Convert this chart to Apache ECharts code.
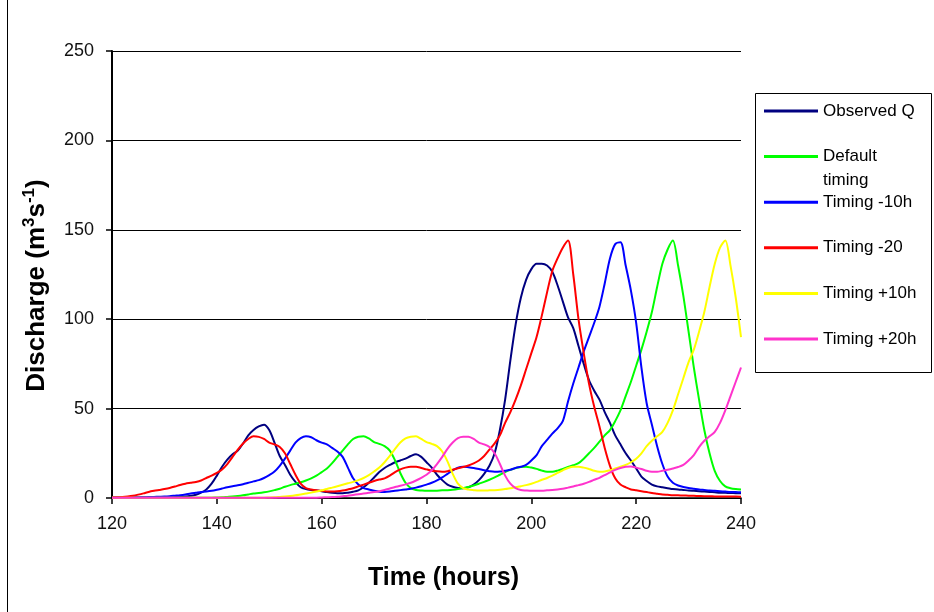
<!DOCTYPE html>
<html><head><meta charset="utf-8">
<script src="https://cdn.jsdelivr.net/npm/echarts@6/dist/echarts.min.js"></script>
<style>html,body{margin:0;padding:0;background:#fff}#c{width:934px;height:612px}</style>
</head><body><div id="c"></div><script>
// time axis: hourly from 120 to 240
const hours = [];
for (let h = 120; h <= 240; h++) hours.push(h);

const seriesNames = ['Observed Q', 'Default timing', 'Timing -10h', 'Timing -20', 'Timing +10h', 'Timing +20h'];
const seriesColors = ['#000080', '#00FF00', '#0000FF', '#FF0000', '#FFFF00', '#FF33CC'];
const xTicks = [120, 140, 160, 180, 200, 220, 240];
const yTicks = [0, 50, 100, 150, 200, 250];

const observedQ = [
  0.3,0.3,0.3,0.3,0.3,0.3,0.3,0.3,0.3,0.3,
  0.4,0.4,0.5,0.6,0.8,1.2,1.8,3,4.8,8,
  12.5,17.5,21.5,24.5,26.5,30.5,35,38,40,41,
  38,31,23.5,18.5,13,9,6,5,4.5,4.2,
  3.8,3.3,2.9,2.7,2.7,3,3.5,4.3,6,8.5,
  11.5,14.5,16.8,18.5,20,21,22,23.5,24.5,23,
  20,17,13,10,7.5,6.3,5.6,5.4,6,7.5,
  10,13.5,18,25,38,55,77,97,112,122,
  128,131,131,130,126.5,119,110,101,95,85,
  75,66,60,55,48,42,35,30,25,21,
  16.5,12,9.5,7.5,6.5,6,5.5,5,4.8,4.5,
  4.2,4,3.8,3.6,3.4,3.2,3,2.9,2.8,2.7,
  2.6];

const defaultTiming = [
  0.2,0.2,0.2,0.2,0.2,0.2,0.2,0.2,0.2,0.2,
  0.2,0.2,0.2,0.2,0.2,0.2,0.2,0.2,0.2,0.2,
  0.3,0.4,0.6,0.8,1.1,1.5,2,2.5,2.8,3.2,
  3.7,4.4,5.2,6.3,7.2,8,8.8,9.8,11,12.5,
  14.5,16.5,19.5,23,26.5,30,33,34.3,34.5,33.3,
  31.3,30.3,29,26.5,21,14,8.5,5.5,4.5,4.2,
  4,4,4.1,4.3,4.4,4.6,5,5.6,6.2,7,
  8,9,10.2,11.5,13,14.5,15.7,16.7,17.3,17.5,
  17,16.3,15.3,14.7,14.7,15.3,16.3,17.3,18.3,19.5,
  22,25,28,31.5,35,38,43,49,57,65,
  74,83,93,104,118,131,139,144,130,113,
  93,73,55,38,25,15,9.5,6.5,5.5,5,
  4.7];

const timingMinus10 = [
  0.2,0.2,0.2,0.3,0.3,0.3,0.4,0.5,0.6,0.7,
  0.8,1,1.3,1.6,2,2.5,2.9,3.3,3.6,4,
  4.6,5.3,6,6.6,7.1,7.7,8.5,9.3,10,11.2,
  12.8,14.8,18,22,26.5,31,33.5,34.5,34,32.3,
  31,30,28,26,23,17,11,7.5,5.5,4.8,
  4,3.5,3.4,3.6,4,4.4,4.8,5.2,5.8,6.6,
  7.5,8.5,9.8,11.5,13.5,15.5,17,17.5,17.2,16.8,
  16.2,15.5,15,14.7,14.8,15.3,15.8,16.8,17.5,18.5,
  21,24,29,32.5,36,39,43,54,64,73,
  82,90,98,107,120,134,142,143,130,116,
  98,73,53,41,29,19,12,8.5,7,6.2,
  5.6,5.2,4.8,4.5,4.2,4,3.8,3.6,3.4,3.3,
  3.2];

const timingMinus20 = [
  0.3,0.4,0.6,0.9,1.3,1.9,2.6,3.4,4,4.5,
  5,5.6,6.4,7.3,8,8.5,9,9.8,11.2,12.5,
  14,16,19,23,27,30.5,33,34.5,34.2,33,
  31,30,28.5,25,19,13,8,5.5,4.8,4.3,
  4,3.7,3.6,3.8,4.2,4.8,5.5,6.5,7.5,8.5,
  9.5,10.3,11,12.5,14.5,16,17,17.5,17.5,16.8,
  16,15.3,14.9,14.7,15,15.8,16.6,17.3,18.2,19.4,
  21,23.5,27,30.5,35,42,48,55,63,72,
  81,90,102,115,127,134,140,144,125,100,
  81,64,51,40,28,18,11,7.5,6,4.8,
  4.3,3.8,3.3,2.8,2.4,2,1.8,1.6,1.5,1.4,
  1.3,1.2,1.1,1,1,0.9,0.9,0.8,0.8,0.8,
  0.7];

const timingPlus10 = [
  0.2,0.2,0.2,0.2,0.2,0.2,0.2,0.2,0.2,0.2,
  0.2,0.2,0.2,0.2,0.2,0.2,0.2,0.2,0.2,0.2,
  0.2,0.2,0.2,0.2,0.2,0.2,0.2,0.2,0.2,0.2,
  0.3,0.4,0.6,0.8,1.1,1.5,2,2.5,3,3.6,
  4.3,5,5.8,6.6,7.4,8.2,9,10,11.2,12.8,
  14.8,17,20,23.5,27.5,31,33.3,34.3,34.5,33,
  31.3,30.3,29,26,20.5,13.5,8,5.5,4.7,4.4,
  4.2,4.2,4.3,4.4,4.6,5,5.5,6,6.6,7.2,
  8,9,10.2,11.2,12.5,14,15.5,16.8,17.5,17.5,
  17,16.2,15.2,14.7,14.8,15.5,16.5,17.5,18.5,20,
  22,25,29,32,34.5,37,42,49,58,67,
  76,83,93,104,118,131,140,144,130,112,
  90];

const timingPlus20 = [
  0.2,0.2,0.2,0.2,0.2,0.2,0.2,0.2,0.2,0.2,
  0.2,0.2,0.2,0.2,0.2,0.2,0.2,0.2,0.2,0.2,
  0.2,0.2,0.2,0.2,0.2,0.2,0.2,0.2,0.2,0.2,
  0.2,0.2,0.2,0.2,0.2,0.2,0.2,0.2,0.2,0.2,
  0.3,0.4,0.5,0.7,1,1.3,1.7,2.1,2.5,2.9,
  3.3,3.8,4.5,5.3,6.1,6.8,7.6,8.5,9.8,11.3,
  13,15.5,19,23,27.5,31,33.5,34.3,34.2,33,
  31,30,28.5,25,19,12.5,8,5.5,4.5,4.2,
  4,4,4.1,4.3,4.5,4.8,5.2,5.8,6.4,7.2,
  8,9,10.2,11.3,12.8,14.3,15.7,16.8,17.5,17.6,
  17,16.2,15.2,14.7,14.7,15.2,15.8,16.5,17.3,18.5,
  21,24,28.5,32,34.5,37,42,49,57,65,
  73];

const allValues = [observedQ, defaultTiming, timingMinus10, timingMinus20, timingPlus10, timingPlus20];

const FONT = 'Liberation Sans';
const chart = echarts.init(document.getElementById('c'), null, { renderer: 'canvas' });

const series = seriesNames.map((name, k) => ({
  name: name,
  type: 'line',
  data: hours.map((h, i) => [h, allValues[k][i]]),
  smooth: 0.3,
  symbol: 'none',
  showSymbol: false,
  lineStyle: { width: 2, color: seriesColors[k] },
  itemStyle: { color: seriesColors[k] },
  emphasis: { disabled: true },
  z: 2 + k
}));

chart.setOption({
  animation: false,
  backgroundColor: '#fff',
  grid: { left: 112, right: 193, top: 51, bottom: 114, containLabel: false },
  xAxis: {
    type: 'value', min: xTicks[0], max: xTicks[xTicks.length - 1], interval: 20,
    name: 'Time (hours)', nameLocation: 'middle', nameGap: 68,
    nameTextStyle: { fontFamily: FONT, fontWeight: 'bold', fontSize: 25, color: '#000', padding: [0, 0, 0, 34] },
    axisLine: { lineStyle: { color: '#000', width: 1.5 } },
    axisTick: { show: true, length: 6, inside: false, lineStyle: { color: '#000', width: 1.5 } },
    axisLabel: { fontFamily: FONT, fontSize: 18, color: '#111', margin: 17 },
    splitLine: { show: false }
  },
  yAxis: {
    type: 'value', min: yTicks[0], max: yTicks[yTicks.length - 1], interval: 50,
    name: 'Discharge (m{sup|3}s{sup|-1})', nameLocation: 'middle', nameGap: 51, nameRotate: 90,
    nameTextStyle: {
      fontFamily: FONT, fontWeight: 'bold', fontSize: 26, color: '#000', lineHeight: 32,
      padding: [0, 22, 0, 0],
      rich: { sup: { fontFamily: FONT, fontWeight: 'bold', fontSize: 17, lineHeight: 17, verticalAlign: 'top', color: '#000' } }
    },
    axisLine: { show: true, lineStyle: { color: '#000', width: 2 } },
    axisTick: { show: true, length: 6, inside: false, lineStyle: { color: '#000', width: 1.5 } },
    axisLabel: { fontFamily: FONT, fontSize: 18, color: '#111', margin: 18 },
    splitLine: { show: true, lineStyle: { color: '#000', width: 1 } }
  },
  legend: {
    orient: 'vertical', left: 764, top: 75, padding: 0,
    icon: 'rect', itemWidth: 54, itemHeight: 3, itemGap: -26.4,
    selectedMode: false,
    data: seriesNames,
    formatter: function (name) {
      if (name === 'Default timing') return ' \nDefault\ntiming';
      return ' \n' + name + '\n ';
    },
    textStyle: { fontFamily: FONT, fontSize: 17, lineHeight: 24, color: '#000' }
  },
  graphic: [
    { type: 'rect', shape: { x: 755.5, y: 93.5, width: 176, height: 279 },
      style: { fill: 'none', stroke: '#000', lineWidth: 1 }, silent: true, z: 0 },
    { type: 'line', shape: { x1: 7.5, y1: 0, x2: 7.5, y2: 612 },
      style: { stroke: '#000', lineWidth: 1 }, silent: true }
  ],
  series: series
});
</script></body></html>
